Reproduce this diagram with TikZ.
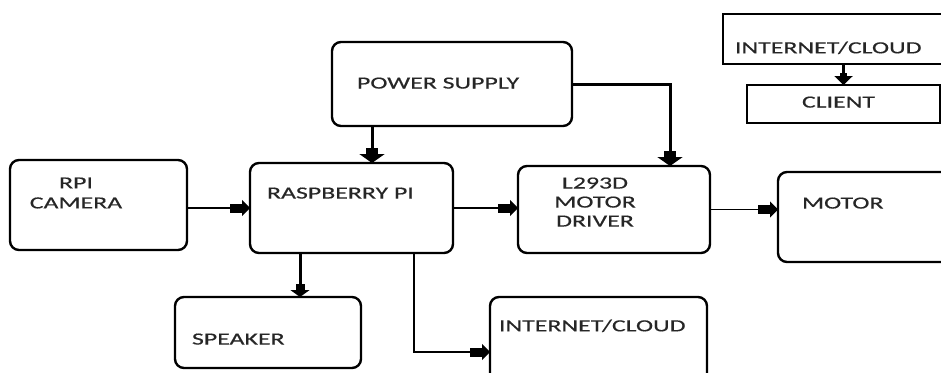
\documentclass[tikz,border=0pt]{standalone}
\usepackage{fontspec}
\setmainfont[FakeStretch=1.52,FakeBold=0.4]{Carlito}
\usetikzlibrary{arrows.meta,calc}
\begin{document}
\begin{tikzpicture}[x=1pt,y=-1pt,
  box/.style={draw,line width=2.4pt,rounded corners=9pt,inner sep=0pt,outer sep=0pt,anchor=north west},
  sqbox/.style={draw,line width=2.6pt,inner sep=0pt,outer sep=0pt,anchor=north west},
  lbl/.style={inner sep=0pt,outer sep=0pt,font=\fontsize{17}{20}\selectfont,text=black!85},
  thinarr/.style={line width=1.9pt,-{Rectangle[length=12pt,width=9pt,sep=0pt]Triangle[length=8pt,width=16pt]}},
  pwrarr/.style={line width=3pt,-{Rectangle[length=6pt,width=12pt,sep=0pt]Triangle[length=9pt,width=25pt]}},
  spkarr/.style={line width=3pt,-{Rectangle[length=6pt,width=9pt,sep=0pt]Triangle[length=7pt,width=19pt]}},
  cliarr/.style={line width=2.5pt,-{Rectangle[length=3pt,width=7pt,sep=0pt]Triangle[length=9pt,width=18pt]}}
]
\useasboundingbox (0,0) rectangle (941,372);
\fill[white] (0,0) rectangle (941,372);
\clip (0,0) rectangle (941,372);

% boxes
\node[box,minimum width=177pt,minimum height=90pt] (cam) at (10,160) {};
\node[box,minimum width=203pt,minimum height=90pt] (rpi) at (250,163) {};
\node[box,minimum width=186pt,minimum height=71pt] (spk) at (175,297) {};
\node[box,minimum width=192pt,minimum height=87pt] (drv) at (518,166) {};
\node[box,minimum width=200pt,minimum height=90pt] (mot) at (778,172) {};
\node[box,minimum width=217pt,minimum height=110pt] (net) at (490,297) {};
\node[box,minimum width=240pt,minimum height=84pt] (pwr) at (332,42) {};
\node[sqbox,minimum width=230pt,minimum height=50pt] (cloud) at (723,14) {};
\node[sqbox,minimum width=193pt,minimum height=38pt] (cli) at (747,85) {};

% labels
\node[lbl,anchor=north,align=center] (tcam) at (76,177.5) {RPI\\CAMERA};
\node[lbl,anchor=north west] (trpi) at (267,187.5) {RASPBERRY PI};
\node[lbl,anchor=north west] (tspk) at (192,333.5) {SPEAKER};
\node[lbl,anchor=north,align=center,font=\fontsize{17}{19}\selectfont] (tdrv) at (595,177.5) {L293D\\MOTOR\\DRIVER};
\node[lbl,anchor=north west] (tmot) at (802,197.5) {MOTOR};
\node[lbl,anchor=north west] (tnet) at (499,319.5) {INTERNET/CLOUD};
\node[lbl,anchor=north west] (tpwr) at (357,77.5) {POWER SUPPLY};
\node[lbl,anchor=north west] (tcloud) at (735,41.5) {INTERNET/CLOUD};
\node[lbl,anchor=north west] (tcli) at (802,96.5) {CLIENT};

% connectors
\draw[thinarr] (rpi.west -| cam.east) -- (rpi.west);
\draw[thinarr] (rpi.east) -- (rpi.east -| drv.west);
\draw[thinarr] (drv.east) -- (drv.east -| mot.west);
\coordinate (spkstart) at ($(rpi.south west)+(50,0)$);
\draw[spkarr] (spkstart) -- (spkstart |- spk.north);
\coordinate (netstart) at ($(rpi.south west)+(164,0)$);
\draw[thinarr] (netstart) |- (net.west);
\coordinate (pwrstart) at ($(pwr.south west)+(40,0)$);
\draw[pwrarr] (pwrstart) -- (pwrstart |- rpi.north);
\coordinate (drvtop) at ($(drv.north west)+(152,0)$);
\draw[pwrarr] (pwr.east) -| (drvtop);
\draw[cliarr] (cloud.south -| cli.north) -- (cli.north);
\end{tikzpicture}
\end{document}
